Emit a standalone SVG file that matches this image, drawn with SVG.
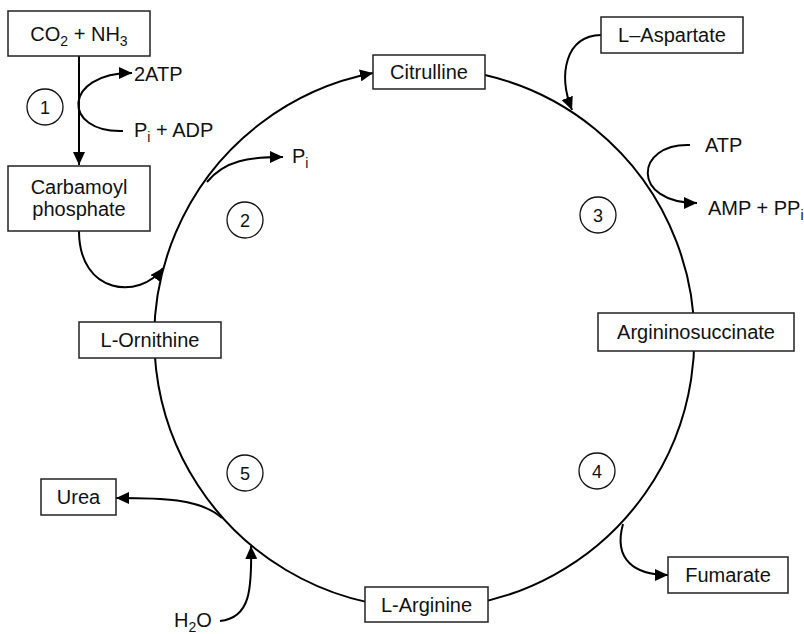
<svg xmlns="http://www.w3.org/2000/svg" width="804" height="634" viewBox="0 0 804 634">
<style>
.box{fill:#fff;stroke:#222;stroke-width:1.5}
.lbl{font-family:"Liberation Sans",Arial,sans-serif;font-size:20px;fill:#111;text-anchor:middle}
.txt{font-family:"Liberation Sans",Arial,sans-serif;font-size:20px;fill:#111}
.num{fill:#fff;stroke:#111;stroke-width:1.3}
.numt{font-family:"Liberation Sans",Arial,sans-serif;font-size:18px;fill:#111;text-anchor:middle}
.ln{fill:none;stroke:#000;stroke-width:2}
.arr{marker-end:url(#ah)}
</style>
<defs>
<marker id="ah" markerUnits="userSpaceOnUse" markerWidth="14" markerHeight="12" refX="13" refY="6" orient="auto">
<path d="M0,0 L13,6 L0,12 z" fill="#000"/>
</marker>
</defs>
<rect width="804" height="634" fill="#fff"/>
<g id="connectors">
<path class="ln arr" d="M485,75 A270,270 0 1 1 373,73"/>
<path class="ln arr" d="M79,56 L79,165"/>
<path class="ln arr" d="M123,131 C62,133 62,73 132,73"/>
<path class="ln arr" d="M207,182 C225,160 250,157 283,157"/>
<path class="ln arr" d="M79,231 C79,295 140,300 163,268"/>
<path class="ln arr" d="M601,35 C565,36 558,75 572,110"/>
<path class="ln arr" d="M690,145 C635,143 630,203 697,203"/>
<path class="ln arr" d="M623,524 C613,560 635,575 668,575"/>
<path class="ln arr" d="M222,518 C200,498 160,498 116,498"/>
<path class="ln arr" d="M220,621 C250,618 252,590 251,546"/>
</g>
<g id="co2nh3"><rect class="box" x="8" y="11" width="142" height="45"/><text class="lbl" x="79" y="41">CO<tspan dy="5" font-size="14">2</tspan><tspan dy="-5"> + NH</tspan><tspan dy="5" font-size="14">3</tspan></text></g>
<g id="carbamoyl"><rect class="box" x="8" y="166" width="142" height="65"/><text class="lbl" x="79" y="194">Carbamoyl</text><text class="lbl" x="79" y="216">phosphate</text></g>
<g id="citrulline"><rect class="box" x="373" y="55" width="112" height="34"/><text class="lbl" x="429" y="79">Citrulline</text></g>
<g id="aspartate"><rect class="box" x="601" y="17" width="142" height="36"/><text class="lbl" x="672" y="42">L–Aspartate</text></g>
<g id="argininosuccinate"><rect class="box" x="598" y="313" width="196" height="38"/><text class="lbl" x="696" y="339">Argininosuccinate</text></g>
<g id="ornithine"><rect class="box" x="79" y="322" width="142" height="36"/><text class="lbl" x="150" y="347">L-Ornithine</text></g>
<g id="urea"><rect class="box" x="41" y="479" width="75" height="36"/><text class="lbl" x="78.5" y="504">Urea</text></g>
<g id="arginine"><rect class="box" x="365" y="587" width="123" height="35"/><text class="lbl" x="426.5" y="612">L-Arginine</text></g>
<g id="fumarate"><rect class="box" x="668" y="557" width="120" height="36"/><text class="lbl" x="728" y="582">Fumarate</text></g>
<g id="atp2"><text class="txt" x="134" y="81">2ATP</text></g>
<g id="piadp"><text class="txt" x="134" y="137">P<tspan dy="5" font-size="14">i</tspan><tspan dy="-5"> + ADP</tspan></text></g>
<g id="pi"><text class="txt" x="292" y="163">P<tspan dy="5" font-size="14">i</tspan></text></g>
<g id="atp"><text class="txt" x="705" y="152">ATP</text></g>
<g id="amppp"><text class="txt" x="708" y="215">AMP + PP<tspan dy="5" font-size="14">i</tspan></text></g>
<g id="h2o"><text class="txt" x="174" y="627">H<tspan dy="5" font-size="14">2</tspan><tspan dy="-5">O</tspan></text></g>
<g id="n1"><circle class="num" cx="45" cy="107" r="18"/><text class="numt" x="45" y="113.5">1</text></g>
<g id="n2"><circle class="num" cx="245" cy="220" r="18"/><text class="numt" x="245" y="226.5">2</text></g>
<g id="n3"><circle class="num" cx="598" cy="215" r="18"/><text class="numt" x="598" y="221.5">3</text></g>
<g id="n4"><circle class="num" cx="597" cy="471" r="18"/><text class="numt" x="597" y="477.5">4</text></g>
<g id="n5"><circle class="num" cx="245" cy="473" r="18"/><text class="numt" x="245" y="479.5">5</text></g>
</svg>
